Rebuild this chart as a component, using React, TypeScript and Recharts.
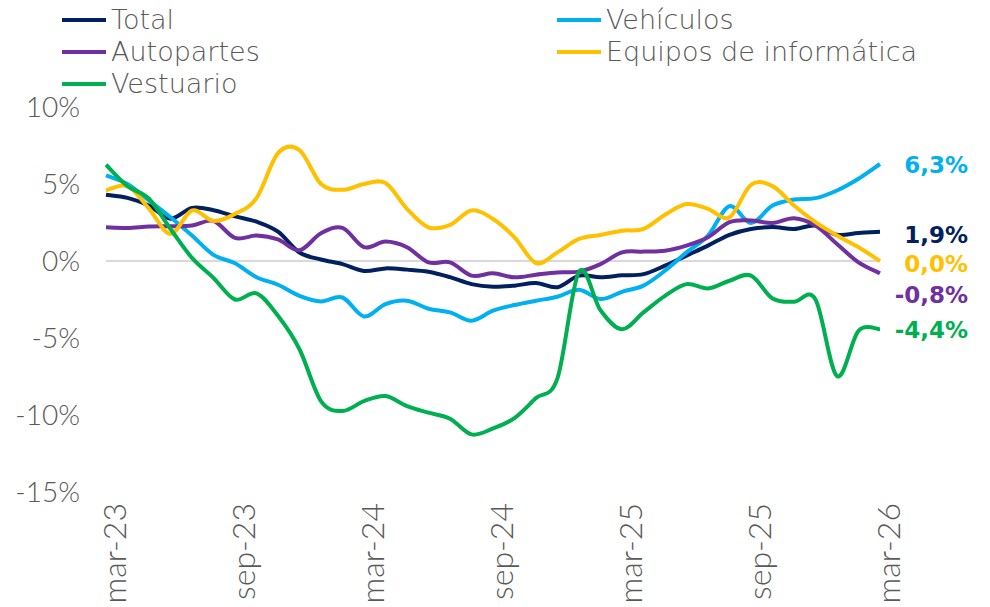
import { LineChart, Line, XAxis, YAxis, ReferenceLine, LabelList } from 'recharts'

const months = [
  'mar-23', 'abr-23', 'may-23', 'jun-23', 'jul-23', 'ago-23', 'sep-23', 'oct-23', 'nov-23', 'dic-23',
  'ene-24', 'feb-24', 'mar-24', 'abr-24', 'may-24', 'jun-24', 'jul-24', 'ago-24', 'sep-24', 'oct-24', 'nov-24', 'dic-24',
  'ene-25', 'feb-25', 'mar-25', 'abr-25', 'may-25', 'jun-25', 'jul-25', 'ago-25', 'sep-25', 'oct-25', 'nov-25', 'dic-25',
  'ene-26', 'feb-26', 'mar-26',
]

const total = [
  4.3, 4.1, 3.6, 2.75, 3.45, 3.3, 2.9, 2.55, 1.9, 0.55, 0.1, -0.2, -0.65,
  -0.48, -0.56, -0.7, -1.05, -1.5, -1.67, -1.6, -1.43, -1.7, -0.95, -1.05, -0.93,
  -0.85, -0.3, 0.35, 1.0, 1.7, 2.08, 2.2, 2.08, 2.3, 1.7, 1.82, 1.9,
]

const vehiculos = [
  5.56, 5.0, 3.93, 2.84, 1.65, 0.4, -0.15, -1.05, -1.54, -2.26, -2.63, -2.37, -3.6,
  -2.8, -2.58, -3.1, -3.34, -3.88, -3.23, -2.86, -2.58, -2.32, -1.87, -2.47, -2.0,
  -1.6, -0.63, 0.56, 1.65, 3.56, 2.47, 3.6, 3.99, 4.08, 4.58, 5.34, 6.3,
]

const autopartes = [
  2.19, 2.15, 2.24, 2.26, 2.3, 2.6, 1.5, 1.65, 1.4, 0.7, 1.8, 2.15, 0.9,
  1.26, 0.89, -0.09, -0.09, -0.95, -0.8, -1.06, -0.89, -0.74, -0.69, -0.2, 0.56,
  0.61, 0.67, 1.0, 1.54, 2.52, 2.63, 2.47, 2.78, 2.3, 1.1, -0.09, -0.8,
]

const equipos = [
  4.58, 4.86, 3.4, 1.76, 3.28, 2.6, 3.06, 4.08, 7.0, 7.2, 5.0, 4.62, 5.0,
  5.06, 3.39, 2.19, 2.34, 3.28, 2.73, 1.54, -0.13, 0.56, 1.43, 1.69, 1.97,
  2.08, 3.0, 3.7, 3.39, 2.84, 4.95, 4.86, 3.6, 2.52, 1.65, 0.89, 0.0,
]

const vestuario = [
  6.25, 4.86, 4.04, 2.08, 0.2, -1.1, -2.5, -2.1, -3.56, -5.73, -9.1, -9.74, -9.1,
  -8.77, -9.42, -9.85, -10.24, -11.26, -10.87, -10.2, -8.9, -7.6, -0.7, -3.2, -4.43,
  -3.34, -2.26, -1.5, -1.78, -1.28, -0.95, -2.43, -2.65, -2.5, -7.47, -4.54, -4.43,
]

const yTicks = [-15, -10, -5, 0, 5, 10]

const series = [
  { key: 'total', name: 'Total', color: '#002060', values: total, labelDy: 3 },
  { key: 'vehiculos', name: 'Vehículos', color: '#00B0F0', values: vehiculos, labelDy: 1 },
  { key: 'autopartes', name: 'Autopartes', color: '#7030A0', values: autopartes, labelDy: 22 },
  { key: 'equipos', name: 'Equipos de informática', color: '#FFC000', values: equipos, labelDy: 3 },
  { key: 'vestuario', name: 'Vestuario', color: '#00B050', values: vestuario, labelDy: 1 },
]

const data = months.map((m, i) => {
  const row: any = { month: m }
  series.forEach(s => { row[s.key] = s.values[i] })
  return row
})

// excel-like smoothed line (catmull-rom through every point)
const smooth = (context: any) => {
  let pts: number[][] = []
  return {
    areaStart() {},
    areaEnd() {},
    lineStart() { pts = [] },
    point(x: number, y: number) { pts.push([+x, +y]) },
    lineEnd() {
      const n = pts.length
      if (!n) return
      context.moveTo(pts[0][0], pts[0][1])
      for (let i = 0; i < n - 1; i++) {
        const p0 = pts[Math.max(i - 1, 0)]
        const p1 = pts[i]
        const p2 = pts[i + 1]
        const p3 = pts[Math.min(i + 2, n - 1)]
        context.bezierCurveTo(
          p1[0] + (p2[0] - p0[0]) / 6, p1[1] + (p2[1] - p0[1]) / 6,
          p2[0] - (p3[0] - p1[0]) / 6, p2[1] - (p3[1] - p1[1]) / 6,
          p2[0], p2[1],
        )
      }
    },
  }
}

const textColor = '#595959'
const font = 'Lato, "DejaVu Sans", sans-serif'

const MonthTick = (props: any) => {
  const { x, y, payload } = props
  return (
    <g transform={`translate(${x + 20},${y})`}>
      <text transform="rotate(-90)" textAnchor="end" fill={textColor} fontSize={32} fontFamily={font} fontWeight={300}>
        {payload.value}
      </text>
    </g>
  )
}

const endLabel = (color: string, dy: number) => (props: any) => {
  if (props.index !== months.length - 1) return null
  const vb = props.viewBox || {}
  const x = vb.x ?? props.x
  const y = vb.y ?? props.y
  const txt = Number(props.value).toFixed(1).replace('.', ',') + '%'
  return (
    <text x={x + 88} y={y + dy} textAnchor="end" dominantBaseline="central" fill={color}
      fontSize={23} fontWeight={700} fontFamily='"DejaVu Sans", sans-serif'>
      {txt}
    </text>
  )
}

export default function App() {
  return (
    <div style={{ position: 'absolute', left: 0, top: 0, width: 990, height: 607, background: '#fff' }}>
      <LineChart width={990} height={607} data={data} margin={{ top: 107, right: 110, bottom: 0, left: 0 }}>
        <XAxis dataKey="month" interval={5} tick={<MonthTick />} tickLine={false} axisLine={false}
          tickSize={0} tickMargin={11} height={115} />
        <YAxis domain={[-15, 10]} ticks={yTicks} width={106} tickLine={false} axisLine={false}
          tickSize={0} tickMargin={26} tickFormatter={(v: number) => `${v}%`}
          tick={{ fill: textColor, fontSize: 28, fontFamily: font, fontWeight: 300 }} />
        <ReferenceLine y={0} stroke="#d9d9d9" strokeWidth={2} />
        {series.map(s => (
          <Line key={s.key} dataKey={s.key} name={s.name} type={smooth as any} stroke={s.color}
            strokeWidth={4} dot={false} activeDot={false} isAnimationActive={false}>
            <LabelList dataKey={s.key} content={endLabel(s.color, s.labelDy)} />
          </Line>
        ))}
      </LineChart>
      {series.map((s, k) => (
        <div key={s.key} style={{
          position: 'absolute', left: k % 2 === 0 ? 62 : 557, top: 4 + 32 * Math.floor(k / 2), height: 32,
          display: 'flex', alignItems: 'center', fontFamily: '"DejaVu Sans", sans-serif', fontWeight: 300,
          fontSize: 27, lineHeight: '32px', color: textColor, whiteSpace: 'nowrap',
        }}>
          <span style={{ display: 'inline-block', width: 44, height: 4, background: s.color, marginRight: 5 }} />
          {s.name}
        </div>
      ))}
    </div>
  )
}
